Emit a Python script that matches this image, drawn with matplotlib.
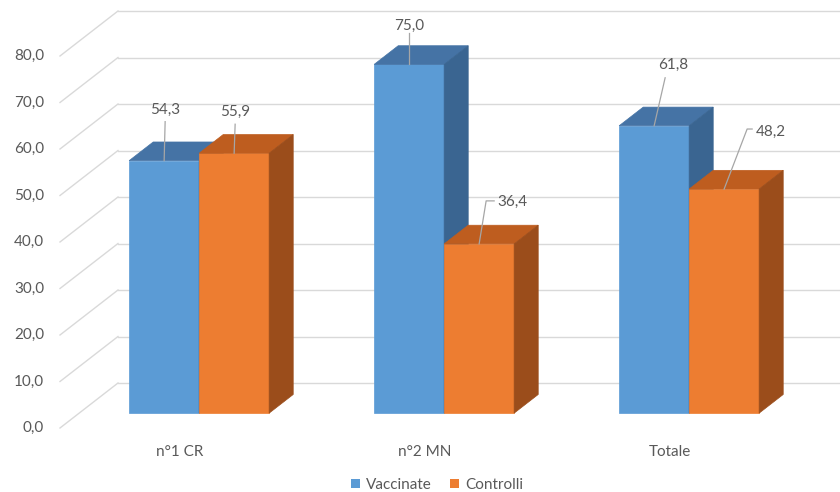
import matplotlib
matplotlib.use("Agg")
import matplotlib.pyplot as plt
from matplotlib.patches import Polygon, Patch

# ---- data -------------------------------------------------------------
categories = ["n°1 CR", "n°2 MN", "Totale"]
series_names = ["Vaccinate", "Controlli"]
vaccinate = [54.3, 75.0, 61.8]
controlli = [55.9, 36.4, 48.2]
y_ticks = [0, 10, 20, 30, 40, 50, 60, 70, 80]

# ---- styling ----------------------------------------------------------
FONT = ["Lato", "DejaVu Sans"]
TEXT_C = "#595959"
GRID_C = "#D9D9D9"
LEADER_C = "#A6A6A6"
faces = {
    "Vaccinate": ("#5B9BD5", "#4573A5", "#3A6591"),   # front, top, side
    "Controlli": ("#ED7D31", "#BE5D1F", "#9B4D1B"),
}

# pixel scale of the oblique projection
PX_CAT = 245.0      # pixels per category step
PX_VAL = 4.65       # pixels per value unit
DEPTH_X = 58.0 / PX_CAT     # full floor depth, in category units
DEPTH_Y = 45.0 / PX_VAL     # full floor depth, in value units
BAR_W = 70.0 / PX_CAT
D0, D1 = 0.33, 0.745        # bar depth range within the floor
WALL_X0 = -120.0 / PX_CAT   # left edge of the floor (front)
TOP_V = 80

W, H = 840, 492
fig = plt.figure(figsize=(W / 100, H / 100), dpi=100)
ax = fig.add_axes([0, 0, 1, 1])
ax.set_xlim(-180.0 / PX_CAT, (W - 180.0) / PX_CAT)
ax.set_ylim((428.0 - H) / PX_VAL, 428.0 / PX_VAL)
ax.axis("off")


def proj(x, v, d):
    """Oblique projection of (x, value, depth) into axes data units."""
    return (x + d * DEPTH_X, v + d * DEPTH_Y)


# back wall gridlines and floor/side diagonals
for t in y_ticks:
    bx, by = proj(WALL_X0, t, 1.0)
    ax.plot([bx, ax.get_xlim()[1]], [by, by], color=GRID_C, lw=1.0, zorder=1)
    fx, fy = proj(WALL_X0, t, 0.0)
    ax.plot([fx, bx], [fy, by], color=GRID_C, lw=1.0, zorder=1)
    ax.text(44.0 / PX_CAT - 180.0 / PX_CAT, t, f"{t:.1f}".replace(".", ","),
            ha="right", va="center", fontsize=11, color=TEXT_C, family=FONT)


def draw_bar(x0, value, name, z):
    front_c, top_c, side_c = faces[name]
    x1 = x0 + BAR_W
    front = [proj(x0, 0, D0), proj(x1, 0, D0), proj(x1, value, D0), proj(x0, value, D0)]
    top = [proj(x0, value, D0), proj(x1, value, D0), proj(x1, value, D1), proj(x0, value, D1)]
    side = [proj(x1, 0, D0), proj(x1, 0, D1), proj(x1, value, D1), proj(x1, value, D0)]
    for pts, c in ((front, front_c), (top, top_c), (side, side_c)):
        ax.add_patch(Polygon(pts, closed=True, facecolor=c, edgecolor=c,
                             lw=0.5, zorder=z))
    # anchor for the data label: centre of the front-top edge
    return proj(x0 + BAR_W / 2, value, D0)


anchors = []
for i in range(len(categories)):
    anchors.append((draw_bar(i - BAR_W, vaccinate[i], "Vaccinate", 3 + 2 * i), vaccinate[i]))
    anchors.append((draw_bar(i, controlli[i], "Controlli", 4 + 2 * i), controlli[i]))

# label placement in pixels relative to the anchor (dx right, dy up):
# text centre, then leader points from the anchor outwards
label_layout = [
    ((1, 51), [(1, 39)]),
    ((1, 41), [(1, 29)]),
    ((0, 39), [(0, 31)]),
    ((33, 42), [(7, 43), (15, 43)]),
    ((19, 61), [(11, 48)]),
    ((47, 57), [(23, 60), (28, 60)]),
]

for ((ax_x, ax_y), val), (toff, leader) in zip(anchors, label_layout):
    xs = [ax_x] + [ax_x + dx / PX_CAT for dx, _ in leader]
    ys = [ax_y] + [ax_y + dy / PX_VAL for _, dy in leader]
    ax.plot(xs, ys, color=LEADER_C, lw=0.9, zorder=20)
    ax.text(ax_x + toff[0] / PX_CAT, ax_y + toff[1] / PX_VAL,
            f"{val:.1f}".replace(".", ","), ha="center", va="center",
            fontsize=11, color=TEXT_C, family=FONT, zorder=21)

# category labels under each group
for i, c in enumerate(categories):
    ax.text(i, -24.0 / PX_VAL, c, ha="center", va="center",
            fontsize=11, color=TEXT_C, family=FONT)

handles = [Patch(facecolor=faces[n][0], edgecolor="none", label=n) for n in series_names]
fig.legend(handles=handles, loc="center", bbox_to_anchor=(437 / W, 1 - 485 / H),
           ncol=2, frameon=False, handlelength=0.6, handleheight=0.6,
           handletextpad=0.4, columnspacing=1.2,
           prop={"family": FONT, "size": 11}, labelcolor=TEXT_C)

fig.savefig("out.png", dpi=100, facecolor="white")
